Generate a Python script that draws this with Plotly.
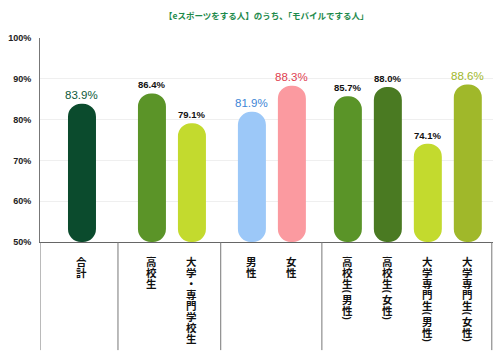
import plotly.graph_objects as go

# ---- data ----
title_text = "【eスポーツをする人】のうち、「モバイルでする人」"
groups = [
    ["合計"],
    ["高校生", "大学・専門学校生"],
    ["男性", "女性"],
    ["高校生(男性)", "高校生(女性)", "大学専門生(男性)", "大学専門生(女性)"],
]
values = [83.9, 86.4, 79.1, 81.9, 88.3, 85.7, 88.0, 74.1, 88.6]
y_ticks = [50, 60, 70, 80, 90, 100]
y_tick_labels = ["50%", "60%", "70%", "80%", "90%", "100%"]

# ---- styles ----
bar_colors = ["#0b4b2d", "#5b9428", "#c3da2e", "#9cc8f8", "#fb9aa0",
              "#5a9428", "#4a7a22", "#c3da2e", "#a0b82a"]
label_colors = ["#0e5a3a", "#111111", "#111111", "#3d86d6", "#e0404f",
                "#111111", "#111111", "#111111", "#9fb82c"]
label_big = [True, False, False, True, True, False, False, False, True]
pads_left = [1.05, 0.85, 0.78, 0.65]
pads_right = [0.9, 0.72, 0.75, 0.6]

# ---- layout positions derived from group structure ----
cats, xs, bounds = [], [], [0.0]
cur = 0.0
for g, pl, pr in zip(groups, pads_left, pads_right):
    for i, c in enumerate(g):
        cats.append(c)
        xs.append(cur + pl + i)
    cur += pl + pr + (len(g) - 1)
    bounds.append(cur)

fig = go.Figure()
fig.add_trace(go.Bar(
    x=xs, y=[v - 50 for v in values], base=50, width=0.7,
    marker=dict(color=bar_colors, line=dict(width=0)),
    hoverinfo="skip",
))

annotations = []
for x, v, col, big in zip(xs, values, label_colors, label_big):
    annotations.append(dict(
        x=x, y=v, xref="x", yref="y", text=f"{v:.1f}%", showarrow=False,
        yanchor="bottom", yshift=1,
        font=dict(family="Liberation Sans", size=11.5 if big else 9.5, color=col,
                  weight="normal" if big else "bold"),
    ))

# vertical category labels (one glyph per line, parentheses rotated)
for x, c in zip(xs, cats):
    off = 14.0
    for ch in c:
        if ch in "()":
            h = 5.0
            annotations.append(dict(
                x=x, y=0, xref="x", yref="paper", text=ch, showarrow=False,
                textangle=90, yanchor="middle", xanchor="center",
                yshift=-(off + h / 2),
                font=dict(family="Liberation Sans", size=9, color="#111", weight="bold"),
            ))
        else:
            h = 11.0
            annotations.append(dict(
                x=x, y=0, xref="x", yref="paper", text=ch, showarrow=False,
                yanchor="middle", xanchor="center", yshift=-(off + h / 2),
                font=dict(family="Noto Sans CJK JP", size=10.5, color="#111", weight="bold"),
            ))
        off += h

annotations.append(dict(
    x=0.5, y=1, xref="paper", yref="paper", yanchor="middle", yshift=23,
    showarrow=False, text=title_text,
    font=dict(family="Noto Sans CJK JP", size=8.5, color="#1e8a4c", weight="bold"),
))

shapes = []
for b in bounds:
    shapes.append(dict(type="line", xref="x", yref="paper", x0=b, x1=b,
                       y0=0, y1=-0.53, line=dict(color="#777", width=1)))

fig.update_layout(
    width=500, height=361,
    margin=dict(l=40, r=7, t=38, b=119),
    paper_bgcolor="white", plot_bgcolor="white",
    showlegend=False,
    barcornerradius="50%",
    xaxis=dict(range=[0, bounds[-1] + 0.03], showticklabels=False, showgrid=False,
               zeroline=False, showline=True, linecolor="#666", linewidth=1, fixedrange=True),
    yaxis=dict(range=[50, 100], tickvals=y_ticks, ticktext=y_tick_labels,
               showgrid=True, gridcolor="#efefef", gridwidth=1, zeroline=False,
               showline=True, linecolor="#777", linewidth=1, ticks="",
               tickfont=dict(family="Liberation Sans", size=9, color="#222", weight="bold"),
               ticklabelstandoff=6, fixedrange=True),
    annotations=annotations,
    shapes=shapes,
)

fig.write_html("out.html", config={"displayModeBar": False},
               post_script="document.body.style.margin='0';")
